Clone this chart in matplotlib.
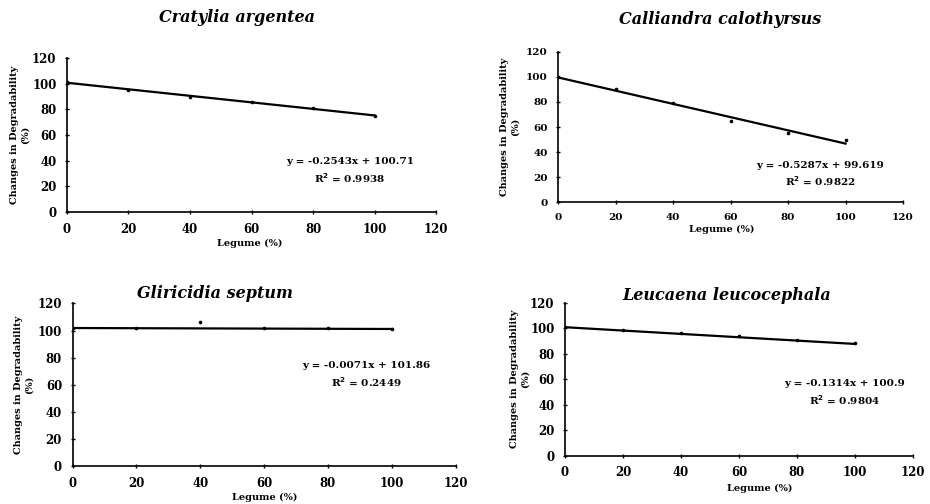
import matplotlib.pyplot as plt
import numpy as np

# legume inclusion levels (%)
legume = [0, 20, 40, 60, 80, 100]

# observed change in degradability (%)
cratylia = [101, 95, 90, 86, 81, 75]
calliandra = [100, 90, 79, 65, 55, 50]
gliricidia = [102, 102, 106, 102, 102, 101.5]
leucaena = [101, 99, 96, 94, 91, 88.5]

# linear fits: slope, intercept, r2
fits = [
    (-0.2543, 100.71, 0.9938),
    (-0.5287, 99.619, 0.9822),
    (-0.0071, 101.86, 0.2449),
    (-0.1314, 100.9, 0.9804),
]

titles = ["Cratylia argentea", "Calliandra calothyrsus",
          "Gliricidia septum", "Leucaena leucocephala"]
eq_texts = [
    ("y = -0.2543x + 100.71", "R$^2$ = 0.9938"),
    ("y = -0.5287x + 99.619", "R$^2$ = 0.9822"),
    ("y = -0.0071x + 101.86", "R$^2$ = 0.2449"),
    ("y = -0.1314x + 100.9", "R$^2$ = 0.9804"),
]
yticks = [0, 20, 40, 60, 80, 100, 120]
xticks = [0, 20, 40, 60, 80, 100, 120]

plt.rcParams["font.family"] = ["DejaVu Serif"]
plt.rcParams["mathtext.default"] = "bf"

fig = plt.figure(figsize=(9.3, 5.04), dpi=100)

# axes boxes in figure fraction [left, bottom, width, height]
boxes = [
    [0.072, 0.579, 0.397, 0.306],
    [0.600, 0.599, 0.371, 0.298],
    [0.078, 0.075, 0.412, 0.323],
    [0.6075, 0.096, 0.374, 0.303],
]
tick_sizes = [8.5, 7.5, 8.5, 8.5]
# title, xlabel, ylabel, equation positions (figure pixels)
title_pos = [(237, 18), (720, 20), (215, 293), (727, 295)]
xlab_pos = [(250, 243), (722, 229), (265, 497), (760, 488)]
eq_pos = [(350, 162), (820, 165), (366, 366), (845, 384)]
ylab_x = [20, 510, 24, 520]

series = [cratylia, calliandra, gliricidia, leucaena]
W, H = 930, 504

for i in range(4):
    ax = fig.add_axes(boxes[i])
    slope, icpt, r2 = fits[i]
    xs = np.array([0, 100])
    ax.plot(xs, slope * xs + icpt, color="black", lw=1.6)
    ax.plot(legume, series[i], "o", color="black", ms=1.6)

    ax.set_xlim(0, 120)
    ax.set_ylim(0, 120)
    ax.set_xticks(xticks)
    ax.set_yticks(yticks)
    ax.spines["top"].set_visible(False)
    ax.spines["right"].set_visible(False)
    ax.spines["left"].set_linewidth(1.2)
    ax.spines["bottom"].set_linewidth(1.2)
    ax.tick_params(direction="inout", length=3, width=1,
                   labelsize=tick_sizes[i], pad=6)
    for lab in ax.get_xticklabels() + ax.get_yticklabels():
        lab.set_fontweight("bold")

    tx, ty = title_pos[i]
    fig.text(tx / W, 1 - ty / H, titles[i], ha="center", va="center",
             fontsize=11.5, fontstyle="italic", fontweight="bold")
    lx, ly = xlab_pos[i]
    fig.text(lx / W, 1 - ly / H, "Legume (%)", ha="center", va="center",
             fontsize=7, fontweight="bold")
    b = boxes[i]
    fig.text(ylab_x[i] / W, b[1] + b[3] / 2, "Changes in Degradability\n(%)",
             ha="center", va="center", rotation=90, fontsize=7,
             fontweight="bold", linespacing=1.3)
    ex, ey = eq_pos[i]
    fig.text(ex / W, 1 - ey / H, eq_texts[i][0], ha="center", va="center",
             fontsize=7.5, fontweight="bold")
    fig.text(ex / W, 1 - (ey + 16) / H, eq_texts[i][1], ha="center", va="center",
             fontsize=7.5, fontweight="bold")

fig.savefig("out.png", dpi=100)
